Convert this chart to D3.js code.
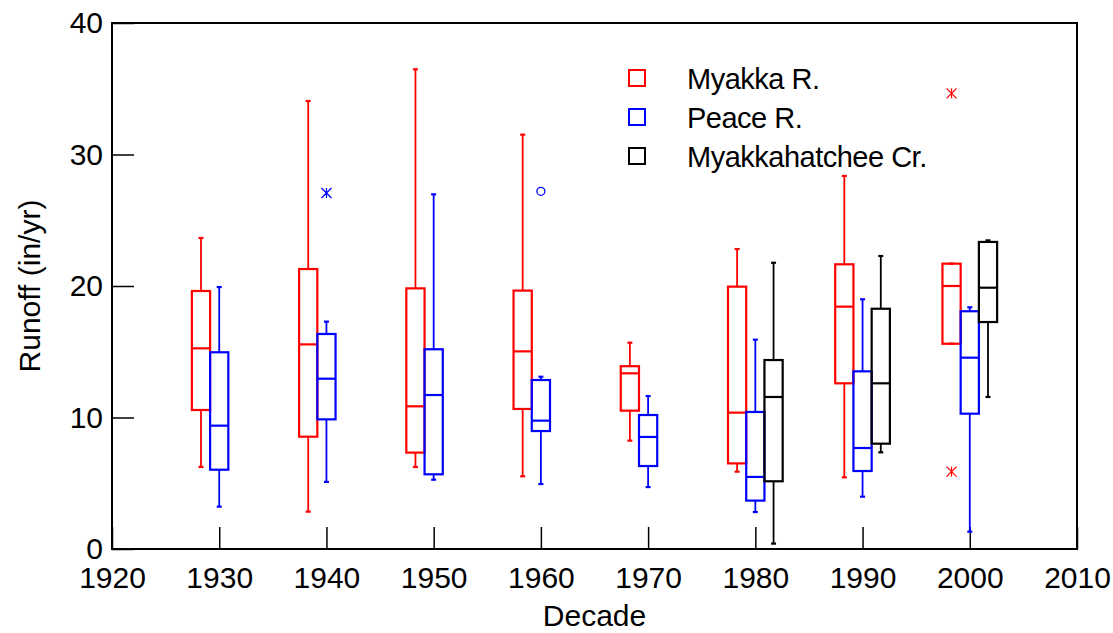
<!DOCTYPE html>
<html>
<head>
<meta charset="utf-8">
<script src="https://cdn.jsdelivr.net/npm/d3@7"></script>
<style>
  html, body { margin: 0; padding: 0; background: #fff; }
  text { font-family: "Liberation Sans", Arial, sans-serif; fill: #000; }
</style>
</head>
<body>
<svg id="chart" width="1113" height="633"></svg>
<script>
// ---------------- data ----------------
const xTicks = [1920, 1930, 1940, 1950, 1960, 1970, 1980, 1990, 2000, 2010];
const yTicks = [0, 10, 20, 30, 40];
const seriesNames = ["Myakka R.", "Peace R.", "Myakkahatchee Cr."];

const myakkaDecades = [1930, 1940, 1950, 1960, 1970, 1980, 1990, 2000];
const myakkaLow     = [6.24, 2.84, 6.24, 5.53, 8.24, 5.88, 5.45, 15.61];
const myakkaQ1      = [10.57, 8.54, 7.33, 10.65, 10.52, 6.51, 12.6, 15.61];
const myakkaMedian  = [15.26, 15.56, 10.85, 15.03, 13.36, 10.37, 18.43, 20.0];
const myakkaQ3      = [19.62, 21.29, 19.82, 19.65, 13.9, 19.95, 21.65, 21.7];
const myakkaHigh    = [23.65, 34.07, 36.48, 31.51, 15.69, 22.81, 28.37, 21.7];

const peaceDecades = [1930, 1940, 1950, 1960, 1970, 1980, 1990, 2000];
const peaceLow     = [3.22, 5.1, 5.27, 4.94, 4.71, 2.81, 3.98, 1.32];
const peaceQ1      = [6.03, 9.86, 5.68, 8.97, 6.31, 3.68, 5.93, 10.29];
const peaceMedian  = [9.38, 12.95, 11.71, 9.76, 8.52, 5.48, 7.68, 14.55];
const peaceQ3      = [14.96, 16.35, 15.19, 12.85, 10.19, 10.42, 13.51, 18.08];
const peaceHigh    = [19.92, 17.29, 26.97, 13.1, 11.63, 15.92, 18.99, 18.38];

const hatchDecades = [1980, 1990, 2000];
const hatchLow     = [0.41, 7.35, 11.56];
const hatchQ1      = [5.15, 8.01, 17.26];
const hatchMedian  = [11.56, 12.6, 19.87];
const hatchQ3      = [14.37, 18.27, 23.35];
const hatchHigh    = [21.77, 22.28, 23.47];

// outliers: series index, decade, value, marker
const outlierSeries = [1, 1, 0, 0];
const outlierDecade = [1940, 1960, 2000, 2000];
const outlierValue  = [27.07, 27.2, 34.65, 5.88];
const outlierMarker = ["star", "circle", "star", "star"];

// ---------------- styles / layout ----------------
const colors = ["#ff0000", "#0000ff", "#000000"];
const groupOffset = [-1.7, 0, 1.7];   // years
const boxWidthYears = 1.7;
const FONT = 30;

const svg = d3.select("#chart");
const x = d3.scaleLinear().domain([1920, 2010]).range([112, 1077]);
const y = d3.scaleLinear().domain([0, 40]).range([549, 23]);

function build(decades, lo, q1, med, q3, hi) {
  return decades.map((d, i) => ({ d, lo: lo[i], q1: q1[i], med: med[i], q3: q3[i], hi: hi[i] }));
}
const series = [
  build(myakkaDecades, myakkaLow, myakkaQ1, myakkaMedian, myakkaQ3, myakkaHigh),
  build(peaceDecades, peaceLow, peaceQ1, peaceMedian, peaceQ3, peaceHigh),
  build(hatchDecades, hatchLow, hatchQ1, hatchMedian, hatchQ3, hatchHigh)
];

// ---------------- axes ----------------
const xAxis = d3.axisBottom(x).tickValues(xTicks).tickFormat(d3.format("d")).tickSizeInner(-22).tickSizeOuter(0);
const gx = svg.append("g").attr("transform", `translate(0,${y(0)})`).call(xAxis);
gx.select(".domain").remove();
gx.selectAll(".tick line").attr("stroke", "#000").attr("stroke-width", 1.5);
gx.selectAll(".tick text").attr("font-size", FONT).attr("dy", "0.71em").attr("y", 18)
  .style("font-family", "'Liberation Sans', Arial, sans-serif");

const yAxis = d3.axisLeft(y).tickValues(yTicks).tickSizeInner(-22).tickSizeOuter(0);
const gy = svg.append("g").attr("transform", `translate(${x(1920)},0)`).call(yAxis);
gy.select(".domain").remove();
gy.selectAll(".tick line").attr("stroke", "#000").attr("stroke-width", 1.5);
gy.selectAll(".tick text").attr("font-size", FONT).attr("x", -9)
  .style("font-family", "'Liberation Sans', Arial, sans-serif");

// frame
svg.append("rect")
  .attr("x", x(1920)).attr("y", y(40))
  .attr("width", x(2010) - x(1920)).attr("height", y(0) - y(40))
  .attr("fill", "none").attr("stroke", "#000").attr("stroke-width", 2);

// axis titles
svg.append("text").attr("x", (x(1920) + x(2010)) / 2).attr("y", 626)
  .attr("text-anchor", "middle").attr("font-size", FONT).text("Decade");
svg.append("text").attr("transform", `translate(40,${(y(0) + y(40)) / 2}) rotate(-90)`)
  .attr("text-anchor", "middle").attr("font-size", FONT).text("Runoff (in/yr)");

// ---------------- boxes ----------------
const bw = x(1920 + boxWidthYears) - x(1920);
series.forEach((data, si) => {
  const g = svg.append("g").attr("stroke", colors[si]).attr("fill", "none");
  data.forEach(b => {
    const cx = x(b.d + groupOffset[si]);
    g.append("line").attr("x1", cx).attr("x2", cx).attr("y1", y(b.q3)).attr("y2", y(b.hi)).attr("stroke-width", 1.8);
    g.append("line").attr("x1", cx).attr("x2", cx).attr("y1", y(b.q1)).attr("y2", y(b.lo)).attr("stroke-width", 1.8);
    g.append("line").attr("x1", cx - 2.5).attr("x2", cx + 2.5).attr("y1", y(b.hi)).attr("y2", y(b.hi)).attr("stroke-width", 2.2);
    g.append("line").attr("x1", cx - 2.5).attr("x2", cx + 2.5).attr("y1", y(b.lo)).attr("y2", y(b.lo)).attr("stroke-width", 2.2);
    g.append("rect").attr("x", cx - bw / 2).attr("y", y(b.q3))
      .attr("width", bw).attr("height", y(b.q1) - y(b.q3)).attr("stroke-width", 2.2);
    g.append("line").attr("x1", cx - bw / 2).attr("x2", cx + bw / 2)
      .attr("y1", y(b.med)).attr("y2", y(b.med)).attr("stroke-width", 2.2);
  });
});

// ---------------- outliers ----------------
outlierValue.forEach((v, i) => {
  const si = outlierSeries[i];
  const cx = x(outlierDecade[i] + groupOffset[si]);
  const cy = y(v);
  const c = colors[si];
  if (outlierMarker[i] === "circle") {
    svg.append("circle").attr("cx", cx).attr("cy", cy).attr("r", 4)
      .attr("fill", "none").attr("stroke", c).attr("stroke-width", 1.3);
  } else {
    const r = 5;
    const g = svg.append("g").attr("stroke", c).attr("stroke-width", 1.2);
    g.append("line").attr("x1", cx).attr("x2", cx).attr("y1", cy - r).attr("y2", cy + r);
    g.append("line").attr("x1", cx - r).attr("x2", cx + r).attr("y1", cy - r).attr("y2", cy + r);
    g.append("line").attr("x1", cx - r).attr("x2", cx + r).attr("y1", cy + r).attr("y2", cy - r);
  }
});

// ---------------- legend ----------------
const legendY = [78, 117, 156];
seriesNames.forEach((name, i) => {
  svg.append("rect").attr("x", 629).attr("y", legendY[i] - 8).attr("width", 16).attr("height", 16)
    .attr("fill", "none").attr("stroke", colors[i]).attr("stroke-width", 2);
  svg.append("text").attr("x", 687).attr("y", legendY[i] + 11)
    .attr("font-size", 29).attr("letter-spacing", "-0.5px").text(name);
});
</script>
</body>
</html>
